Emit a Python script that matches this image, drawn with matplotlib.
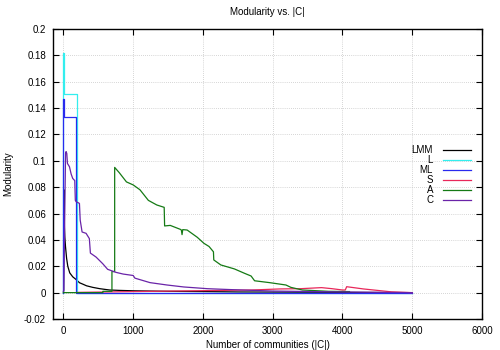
import matplotlib as mpl
mpl.use("Agg")
import matplotlib.pyplot as plt
from matplotlib.ticker import FuncFormatter, MultipleLocator

mpl.rcParams.update({
    "font.family": ["Liberation Sans", "DejaVu Sans"],
    "font.size": 7,
    "axes.unicode_minus": False,
})

# Series (x = number of communities, y = modularity)
lmm_x = [0, 3, 6, 8, 10, 14, 20, 29, 45, 62, 90, 133, 180, 230, 275, 330, 420, 520, 660,
         800, 1000, 1500, 2000, 2500, 3500, 5000]
lmm_y = [0.0, 0.002, 0.06, 0.078, 0.065, 0.05, 0.042, 0.035, 0.026, 0.020, 0.015, 0.012,
         0.010, 0.0075, 0.0065, 0.0052, 0.004, 0.003, 0.002, 0.0017, 0.0014, 0.001,
         0.0008, 0.0005, 0.0003, 0.0]

l_x = [0, 0, 5, 5, 190, 190, 5000]
l_y = [0.0, 0.182, 0.182, 0.151, 0.151, 0.0, 0.0]

ml_x = [0, 0, 5, 5, 182, 182, 5000]
ml_y = [0.0, 0.147, 0.147, 0.133, 0.133, -0.0004, -0.0004]

s_x = [200, 1000, 2000, 2700, 3100, 3400, 3700, 3850, 4000, 4040, 4060, 4300, 4700, 5000]
s_y = [0.0002, 0.0008, 0.0015, 0.002, 0.0028, 0.003, 0.0038, 0.003, 0.002, 0.002,
       0.0045, 0.0028, 0.0006, 0.0]

a_x = [0, 565, 565, 695, 695, 734, 734, 800, 903, 1000, 1097, 1217, 1338, 1444, 1450,
       1531, 1676, 1690, 1700, 1710, 1773, 1918, 2014, 2087, 2150, 2155, 2256, 2450,
       2594, 2690, 2740, 2953, 3189, 3260, 3425, 3613, 3800, 4100]
a_y = [0.0, 0.0, 0.001, 0.001, 0.016, 0.016, 0.095, 0.091, 0.084, 0.0817, 0.078, 0.070,
       0.0665, 0.0647, 0.0506, 0.051, 0.048, 0.0475, 0.044, 0.0478, 0.0475, 0.042,
       0.0374, 0.035, 0.031, 0.0248, 0.021, 0.018, 0.0147, 0.0126, 0.009, 0.0076,
       0.0058, 0.004, 0.002, 0.0015, 0.001, 0.0008]

c_x = [0, 5, 15, 30, 38, 48, 57, 86, 110, 133, 162, 170, 181, 229, 240, 267, 324, 371,
       386, 467, 562, 633, 752, 855, 1000, 1024, 1240, 1483, 1725, 2063, 2400, 3000,
       4000, 5000]
c_y = [0.001, 0.002, 0.045, 0.106, 0.107, 0.1055, 0.098, 0.0955, 0.090, 0.0866, 0.085,
       0.070, 0.069, 0.0677, 0.055, 0.046, 0.045, 0.041, 0.030, 0.027, 0.022, 0.0177,
       0.0154, 0.0141, 0.013, 0.011, 0.0076, 0.0058, 0.0043, 0.003, 0.0023, 0.0012,
       0.0005, 0.0]

SERIES = [
    ("LMM", lmm_x, lmm_y, "#000000"),
    ("L", l_x, l_y, "#33eeee"),
    ("ML", ml_x, ml_y, "#2a2aee"),
    ("S", s_x, s_y, "#e8285a"),
    ("A", a_x, a_y, "#157a15"),
    ("C", c_x, c_y, "#6a24a8"),
]

fig = plt.figure(figsize=(5, 3.5), dpi=100)
ax = fig.add_axes([53 / 500, 1 - 319 / 350, (482 - 53) / 500, (319 - 29) / 350])

for name, xs, ys, col in SERIES:
    ax.plot(xs, ys, color=col, lw=0.9, label=name)

ax.set_xlim(-150, 6000)
ax.set_ylim(-0.02, 0.2)
ax.xaxis.set_major_locator(MultipleLocator(1000))
ax.yaxis.set_major_locator(MultipleLocator(0.02))
ax.yaxis.set_major_formatter(FuncFormatter(lambda v, p: "%g" % round(v, 4)))
ax.tick_params(direction="in", length=4, width=0.8, top=True, right=True,
               labelsize=7, pad=5)
for s in ax.spines.values():
    s.set_linewidth(1.0)
ax.grid(True, color="#b0b0b0", linestyle=(0, (1, 2)), linewidth=0.5)
ax.set_axisbelow(True)

ax.set_title("Modularity vs. |C|", fontsize=7, pad=10)
ax.set_xlabel("Number of communities (|C|)", fontsize=7, labelpad=3)
ax.set_ylabel("Modularity", fontsize=7, labelpad=8)

fig.legend(loc="upper right", bbox_to_anchor=(471 / 500, 1 - 145 / 350),
           markerfirst=False, frameon=False, fontsize=7, handlelength=2.9,
           handletextpad=1.0, labelspacing=0.0, borderpad=0, borderaxespad=0)

fig.savefig("out.png", dpi=100)
